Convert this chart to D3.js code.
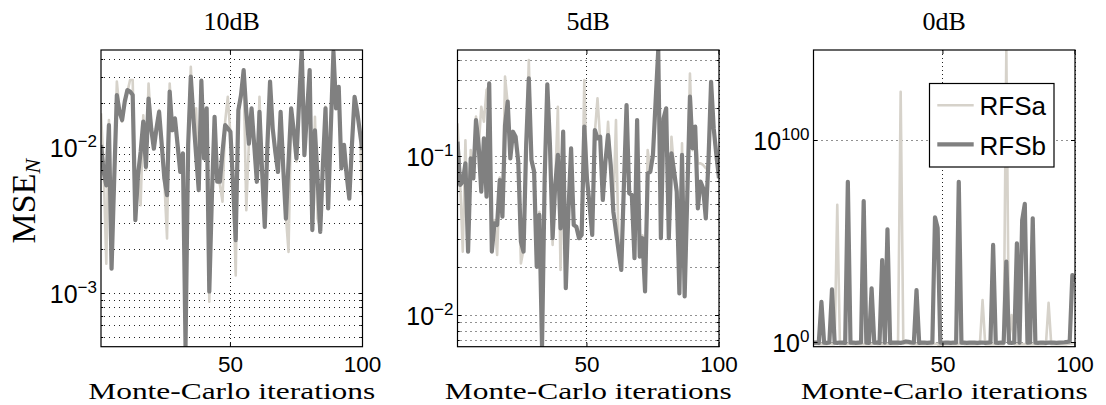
<!DOCTYPE html>
<html><head><meta charset="utf-8">
<script src="https://cdn.jsdelivr.net/npm/d3@7"></script>
<style>body{margin:0;background:#fff}svg{display:block}</style>
</head><body><svg id="c" width="1106" height="405"></svg>
<script>
const iterations = d3.range(1, 101);
const titles = ["10dB", "5dB", "0dB"];
const seriesNames = ["RFSa", "RFSb"];
const xLabel = "Monte-Carlo iterations";
const xTicks = [50, 100];
const yTicks10 = [1e-3, 1e-2];
const yTicks5 = [1e-2, 1e-1];
const yTicks0 = [1e0, 1e100];

const rfsa10 = [0.0171,0.0072,0.0016,0.0154,0.00160,0.0064,0.0282,0.0180,0.0150,0.0212,
0.0240,0.0289,0.0289,0.00340,0.00610,0.00403,0.0166,0.0070,0.0274,0.0140,
0.0102,0.0130,0.0180,0.0100,0.0058,0.00238,0.0274,0.0135,0.0150,0.0100,
0.0072,0.0088,0.00050,0.0110,0.0356,0.0150,0.0185,0.0054,0.0270,0.0088,
0.0180,0.00088,0.0050,0.0155,0.0060,0.0056,0.00425,0.0150,0.0222,0.0122,
0.0058,0.00133,0.0185,0.0220,0.0320,0.00372,0.0110,0.0180,0.0100,0.0062,
0.0222,0.0065,0.0030,0.0100,0.0270,0.0140,0.0090,0.0070,0.0168,0.0075,
0.0034,0.00193,0.0180,0.0132,0.0080,0.0200,0.0420,0.0092,0.0168,0.0320,
0.0029,0.0162,0.00326,0.0028,0.0072,0.0190,0.0040,0.0130,0.0430,0.0190,
0.0250,0.0075,0.0100,0.0068,0.0047,0.0100,0.0215,0.0180,0.0125,0.00471];
const rfsb10 = [0.0104,0.0068,0.0055,0.0142,0.00148,0.0061,0.0228,0.0175,0.0154,0.0206,
0.0247,0.0241,0.0228,0.00318,0.00645,0.0093,0.0150,0.00736,0.0216,0.0135,
0.0098,0.0135,0.0175,0.0104,0.0061,0.00471,0.0241,0.0131,0.0158,0.0104,
0.0068,0.0091,0.000433,0.0104,0.0305,0.0158,0.00886,0.0051,0.0286,0.0084,
0.0185,0.00103,0.00471,0.0162,0.00582,0.00582,0.0093,0.0142,0.0135,0.0128,
0.0055,0.00232,0.0180,0.0228,0.0338,0.0175,0.0106,0.0185,0.0104,0.00582,
0.0175,0.0068,0.00286,0.0104,0.0282,0.0135,0.0093,0.0068,0.0175,0.00718,
0.00326,0.00798,0.0185,0.0128,0.0084,0.0206,0.0464,0.00886,0.0175,0.0338,
0.00272,0.0131,0.0061,0.00264,0.00757,0.0185,0.00382,0.0135,0.0452,0.0185,
0.0260,0.00718,0.0104,0.00645,0.00447,0.0104,0.0222,0.0175,0.0128,0.0096];

const rfsa5 = [0.162,0.0690,0.0253,0.127,0.0270,0.110,0.0760,0.179,0.1150,0.206,
0.166,0.263,0.280,0.0265,0.0400,0.0241,0.0740,0.0440,0.319,0.215,
0.1000,0.1400,0.1300,0.0960,0.0213,0.0260,0.1150,0.405,0.0920,0.0830,
0.0210,0.0450,0.0070,0.0700,0.275,0.1150,0.0279,0.0690,0.206,0.0194,
0.1400,0.0155,0.0470,0.1100,0.0390,0.0350,0.0320,0.0330,0.303,0.0760,
0.0480,0.0335,0.1420,0.233,0.1300,0.0550,0.0900,0.166,0.0860,0.0470,
0.170,0.0265,0.0200,0.0690,0.2050,0.0610,0.0560,0.0240,0.165,0.0245,
0.0320,0.0150,0.110,0.0830,0.1000,0.215,0.440,0.0320,0.168,0.1950,
0.0320,0.1336,0.0830,0.0620,0.0145,0.1214,0.0140,0.0590,0.334,0.1100,
0.1500,0.0908,0.0908,0.0887,0.0846,0.0900,0.285,0.1450,0.1000,0.0748];
const rfsb5 = [0.1244,0.0664,0.0697,0.0908,0.0253,0.0977,0.0731,0.170,0.1186,0.0603,
0.1305,0.0561,0.289,0.0253,0.0381,0.0372,0.0713,0.0420,0.158,0.222,
0.0977,0.1436,0.1336,0.0931,0.0292,0.0253,0.1186,0.311,0.0953,0.0805,
0.0203,0.0430,0.00638,0.0731,0.285,0.1186,0.0307,0.0664,0.1026,0.0354,
0.1436,0.0149,0.0451,0.113,0.0372,0.0363,0.0307,0.0322,0.1544,0.0731,
0.0497,0.0322,0.1472,0.1305,0.1336,0.0534,0.0931,0.1368,0.0887,0.0451,
0.0338,0.0253,0.0194,0.0664,0.2113,0.0589,0.0574,0.0230,0.170,0.0235,
0.0307,0.0142,0.0785,0.0805,0.1026,0.222,0.469,0.0307,0.174,0.2013,
0.0307,0.105,0.0805,0.0603,0.0138,0.1026,0.0132,0.0574,0.239,0.113,
0.1544,0.0473,0.0697,0.0633,0.0409,0.0931,0.296,0.1507,0.1026,0.0731];

const rfsa0 = [0.1,0.15,0.08,0.12,0.1,0.09,0.15,0.1,0.12,1.3e68,
0.1,0.08,0.12,0.1,0.15,0.09,0.1,0.12,0.08,0.1,
0.12,0.1,0.09,0.15,0.1,0.08,0.12,0.1,0.09,0.1,
0.12,0.08,0.1,2e124,0.15,0.3,0.2,0.1,0.09,0.12,
0.1,0.08,0.1,0.12,0.09,0.1,0.15,0.1,0.005,0.1,
0.12,0.08,0.1,0.09,0.12,0.1,0.15,0.1,0.08,0.12,
0.1,0.09,0.1,0.12,8e20,0.1,0.08,0.12,0.1,0.09,
0.1,0.12,0.1,1e145,0.15,2.5e13,0.1,0.08,0.12,0.1,
0.09,0.1,0.12,0.1,0.08,0.1,0.12,0.09,0.1,3e19,
0.1,0.12,0.08,0.1,0.09,0.12,0.1,0.15,0.2,0.3];
const rfsb0 = [0.5,0.6,0.4,1e20,0.5,0.4,0.6,1.6e26,0.5,0.4,
0.6,0.5,0.4,4e79,0.5,0.6,0.4,0.5,0.6,1e70,
0.5,0.4,5e26,0.5,0.6,0.4,5e40,0.5,1e56,0.4,
0.5,0.6,0.5,0.4,0.8,2,1.2,0.6,0.5,6e25,
0.4,0.5,0.6,0.4,0.5,0.6,8e61,4e56,0.5,0.4,
0.6,0.5,0.4,0.6,0.5,4e79,0.5,0.6,0.4,0.5,
0.6,0.5,0.4,0.5,0.6,0.4,0.5,0.6,1.6e48,0.5,
0.4,0.6,0.5,8e39,0.5,0.4,0.6,1e49,0.5,4e60,
4e68,0.5,0.6,2.5e61,0.5,0.4,0.6,0.5,0.4,0.5,
0.6,0.5,0.4,0.5,0.6,0.8,1.2,2,2e33,1e30];

const panels = [
  {title: titles[0], a: rfsa10, b: rfsb10, yticks: yTicks10, minor: true},
  {title: titles[1], a: rfsa5, b: rfsb5, yticks: yTicks5, minor: true},
  {title: titles[2], a: rfsa0, b: rfsb0, yticks: yTicks0, minor: false, legend: true}
];

const colA = "#d6d2ca", colB = "#808080";
const lefts = [101, 457.5, 813.5];
const W = 261.5, T = 50, H = 296.7;
const svg = d3.select("#c");
const sans = "'Liberation Sans', Arial, Helvetica, sans-serif";
const serif = "'Liberation Serif', 'Times New Roman', serif";
const crisp = v => Math.round(v - 0.5) + 0.5;

panels.forEach((p, pi) => {
  const L = lefts[pi];
  const x = d3.scaleLinear().domain([1, 100]).range([L, L + W]);
  const y = d3.scaleLog().domain(d3.extent(p.a.concat(p.b))).range([T + H, T]);
  const g = svg.append("g");
  const [d0, d1] = y.domain();

  let gridVals = [];
  if (p.minor) {
    for (let e = Math.floor(Math.log10(d0)); e <= Math.ceil(Math.log10(d1)); e++) {
      for (let k = 1; k <= 9; k++) {
        const v = k * Math.pow(10, e);
        if (v >= d0 && v <= d1) gridVals.push({v, major: k === 1});
      }
    }
  } else {
    p.yticks.forEach(v => gridVals.push({v, major: true}));
  }
  const grid = g.append("g").attr("stroke", "#222").attr("stroke-width", 1)
    .attr("stroke-dasharray", "1 4").attr("fill", "none");
  gridVals.forEach(d => {
    const yy = crisp(y(d.v));
    grid.append("line").attr("x1", L + 3).attr("x2", L + W)
      .attr("y1", yy).attr("y2", yy);
  });
  xTicks.forEach(t => {
    const xx = crisp(x(t));
    grid.append("line").attr("x1", xx).attr("x2", xx)
      .attr("y1", T).attr("y2", T + H).attr("stroke-dasharray", "1 3");
  });

  const cid = "clip" + pi;
  svg.append("clipPath").attr("id", cid).append("rect")
    .attr("x", L).attr("y", T).attr("width", W).attr("height", H);

  const line = d3.line().x((d, i) => x(iterations[i])).y(d => y(d));
  const lg = g.append("g").attr("clip-path", `url(#${cid})`);
  lg.append("path").datum(p.a).attr("d", line).attr("fill", "none")
    .attr("stroke", colA).attr("stroke-width", 2.6).attr("stroke-linejoin", "round");
  lg.append("path").datum(p.b).attr("d", line).attr("fill", "none")
    .attr("stroke", colB).attr("stroke-width", 4.2).attr("stroke-linejoin", "round");

  g.append("rect").attr("x", L).attr("y", T).attr("width", W).attr("height", H)
    .attr("fill", "none").attr("stroke", "#000").attr("stroke-width", 1.2);

  const tk = g.append("g").attr("stroke", "#000").attr("stroke-width", 1);
  gridVals.forEach(d => {
    const len = d.major ? 4 : 2.2;
    const yy = crisp(y(d.v));
    tk.append("line").attr("x1", L).attr("x2", L + len).attr("y1", yy).attr("y2", yy);
    tk.append("line").attr("x1", L + W).attr("x2", L + W - len).attr("y1", yy).attr("y2", yy);
  });
  xTicks.forEach(t => {
    tk.append("line").attr("x1", x(t)).attr("x2", x(t)).attr("y1", T + H).attr("y2", T + H - 4);
    tk.append("line").attr("x1", x(t)).attr("x2", x(t)).attr("y1", T).attr("y2", T + 4);
  });

  p.yticks.forEach(v => {
    const e = Math.round(Math.log10(v));
    const t = g.append("text").attr("x", L - 4).attr("y", y(v) + 9.5)
      .attr("text-anchor", "end").attr("font-family", sans).attr("fill", "#000");
    t.append("tspan").attr("font-size", 25).text("10");
    t.append("tspan").attr("font-size", 17).attr("dy", -10)
      .text(e < 0 ? "\u2212" + Math.abs(e) : String(e));
  });
  xTicks.forEach(v => {
    g.append("text").attr("x", x(v)).attr("y", 371.5).attr("text-anchor", "middle")
      .attr("font-family", sans).attr("font-size", 22.5).text(v);
  });

  g.append("text").attr("x", L + W / 2).attr("y", 29.5).attr("text-anchor", "middle")
    .attr("font-family", serif).attr("font-size", 26).text(p.title);
  g.append("text").attr("x", L + W / 2).attr("y", 398.5).attr("text-anchor", "middle")
    .attr("font-family", serif).attr("font-size", 24)
    .attr("textLength", 287).attr("lengthAdjust", "spacingAndGlyphs").text(xLabel);

  if (pi === 0) {
    const yl = g.append("text").attr("transform", "translate(34.5,243.5) rotate(-90)")
      .attr("font-family", serif).attr("font-size", 34);
    yl.append("tspan").text("MSE");
    yl.append("tspan").attr("font-style", "italic").attr("font-size", 22).attr("dy", 5).text("N");
  }

  if (p.legend) {
    const lgd = svg.append("g");
    lgd.append("rect").attr("x", 929.5).attr("y", 83.5).attr("width", 124.5).attr("height", 83.5)
      .attr("fill", "#fff").attr("stroke", "#000").attr("stroke-width", 1.2);
    const rows = [{name: seriesNames[0], col: colA, w: 2.6, y: 105.3, ty: 115.3},
                  {name: seriesNames[1], col: colB, w: 4.2, y: 144.3, ty: 154.5}];
    rows.forEach(r => {
      lgd.append("line").attr("x1", 937.3).attr("x2", 973.7).attr("y1", r.y).attr("y2", r.y)
        .attr("stroke", r.col).attr("stroke-width", r.w);
      lgd.append("text").attr("x", 979.5).attr("y", r.ty).attr("font-family", sans)
        .attr("font-size", 26).text(r.name);
    });
  }
});
</script>
</body></html>
